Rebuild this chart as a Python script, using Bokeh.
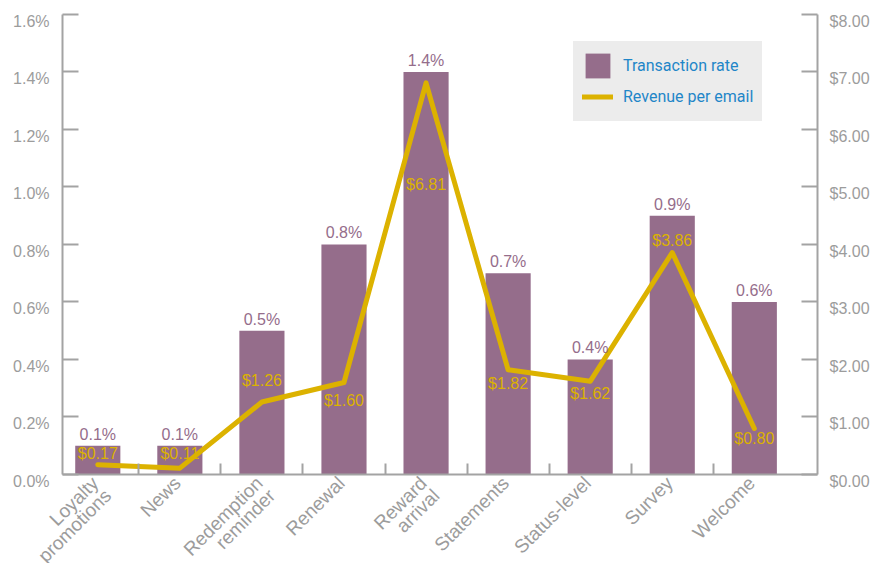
import math
from bokeh.plotting import figure
from bokeh.models import (Range1d, LinearAxis, FixedTicker, ColumnDataSource,
                          Legend, LegendItem)
from bokeh.core.properties import value
from bokeh.embed import file_html
from bokeh.resources import INLINE

# ---- data ----
categories = ["Loyalty\npromotions", "News", "Redemption\nreminder", "Renewal",
              "Reward\narrival", "Statements", "Status-level", "Survey", "Welcome"]
transaction_rate = [0.1, 0.1, 0.5, 0.8, 1.4, 0.7, 0.4, 0.9, 0.6]      # percent
revenue_per_email = [0.17, 0.11, 1.26, 1.60, 6.81, 1.82, 1.62, 3.86, 0.80]  # dollars
rate_ticks = [0.0, 0.2, 0.4, 0.6, 0.8, 1.0, 1.2, 1.4, 1.6]
revenue_ticks = [0, 1, 2, 3, 4, 5, 6, 7, 8]

# ---- styles / layout ----
BAR = "#956d8b"
GOLD = "#dcb200"
GRAY = "#9c9c9c"
AXIS = "#a3a3a3"
LEGEND_TEXT = "#1f86c8"
LEGEND_BG = "#ececec"
FONT = "Liberation Sans"
rev_label_shift_px = [-11, -15, -22, 18, 102, 14, 12, -12, 10]
# axis positions (data units) and the visible extent around them
X_LEFT_AXIS, X_RIGHT_AXIS = -0.43, 8.77
X_VIEW = (-1.1855, 9.4767)
RATE_VIEW = (-0.3096, 1.6487)
REV_SCALE = 5.0  # $ per % so both axes share the zero line and the top tick

idx = list(range(len(categories)))

p = figure(width=875, height=563, output_backend="svg", toolbar_location=None,
           x_range=Range1d(*X_VIEW), y_range=Range1d(*RATE_VIEW),
           min_border=0, min_border_left=0, min_border_right=0,
           min_border_top=0, min_border_bottom=0,
           outline_line_color=None, x_axis_type=None, y_axis_type=None)
p.xgrid.visible = False
p.ygrid.visible = False
p.background_fill_color = "white"
p.border_fill_color = "white"
p.extra_y_ranges = {"rev": Range1d(RATE_VIEW[0] * REV_SCALE, RATE_VIEW[1] * REV_SCALE)}

# axes: lines and inward ticks; tick labels are drawn as text below
yl = LinearAxis(ticker=FixedTicker(ticks=[], minor_ticks=rate_ticks),
                fixed_location=X_LEFT_AXIS, bounds=(rate_ticks[0], rate_ticks[-1]))
yr = LinearAxis(y_range_name="rev",
                ticker=FixedTicker(ticks=[], minor_ticks=revenue_ticks),
                fixed_location=X_RIGHT_AXIS,
                bounds=(revenue_ticks[0], revenue_ticks[-1]))
boundaries = [i + 0.5 for i in idx[:-1]]
xb = LinearAxis(ticker=FixedTicker(ticks=[], minor_ticks=boundaries),
                fixed_location=0, bounds=(X_LEFT_AXIS, X_RIGHT_AXIS))
for ax, tick_len in ((yl, 16), (yr, 16), (xb, 11)):
    ax.axis_line_color = AXIS
    ax.axis_line_width = 2
    ax.major_tick_line_color = None
    ax.minor_tick_line_color = AXIS
    ax.minor_tick_line_width = 2
    ax.minor_tick_in = tick_len
    ax.minor_tick_out = 0
    ax.major_tick_in = 0
    ax.major_tick_out = 0
    ax.major_label_standoff = 0
p.add_layout(yl, "left")
p.add_layout(yr, "right")
p.add_layout(xb, "below")

# y tick labels (sit slightly below their ticks, as in the reference)
p.text(x=[X_LEFT_AXIS] * len(rate_ticks), y=rate_ticks,
       text=[f"{t:.1f}%" for t in rate_ticks], x_offset=-13, y_offset=7,
       text_align="right", text_baseline="middle", text_color=GRAY,
       text_font=value(FONT), text_font_size="16px")
p.text(x=[X_RIGHT_AXIS] * len(revenue_ticks), y=revenue_ticks, y_range_name="rev",
       text=[f"${t:.2f}" for t in revenue_ticks], x_offset=12, y_offset=7,
       text_align="left", text_baseline="middle", text_color=GRAY,
       text_font=value(FONT), text_font_size="16px")

src = ColumnDataSource(dict(x=idx, cat=categories, zero=[0] * len(idx),
                            rate=transaction_rate, rev=revenue_per_email,
                            rate_lbl=[f"{v:.1f}%" for v in transaction_rate],
                            rev_lbl=[f"${v:.2f}" for v in revenue_per_email],
                            shift=rev_label_shift_px))

# category labels, rotated 45 degrees
p.text(x="x", y="zero", text="cat", source=src, angle=math.pi / 4,
       text_align="right", text_baseline="top", x_offset=-10, y_offset=-2,
       text_color=GRAY, text_font=value(FONT), text_font_size="19px",
       text_line_height=0.85)

bars = p.vbar(x="x", top="rate", width=0.55, source=src, fill_color=BAR,
              line_color=None)
line = p.line(x="x", y="rev", source=src, y_range_name="rev", line_color=GOLD,
              line_width=5, line_cap="round", line_join="round")

p.text(x="x", y="rate", text="rate_lbl", source=src, text_align="center",
       text_baseline="bottom", y_offset=-3, text_color=BAR,
       text_font=value(FONT), text_font_size="16px")
p.text(x="x", y="rev", text="rev_lbl", source=src, y_range_name="rev",
       text_align="center", text_baseline="middle", y_offset="shift",
       text_color=GOLD, text_font=value(FONT), text_font_size="16px")

legend = Legend(items=[LegendItem(label="Transaction rate", renderers=[bars]),
                       LegendItem(label="Revenue per email", renderers=[line])],
                location=(573, 442), background_fill_color=LEGEND_BG,
                background_fill_alpha=1.0, border_line_color=LEGEND_BG,
                border_line_width=1, padding=8, spacing=0, glyph_width=31,
                glyph_height=31, label_standoff=10, label_text_color=LEGEND_TEXT,
                label_text_font="Roboto", label_text_font_size="16px", margin=0)
p.add_layout(legend, "center")

open("out.html", "w").write(file_html(p, INLINE))
